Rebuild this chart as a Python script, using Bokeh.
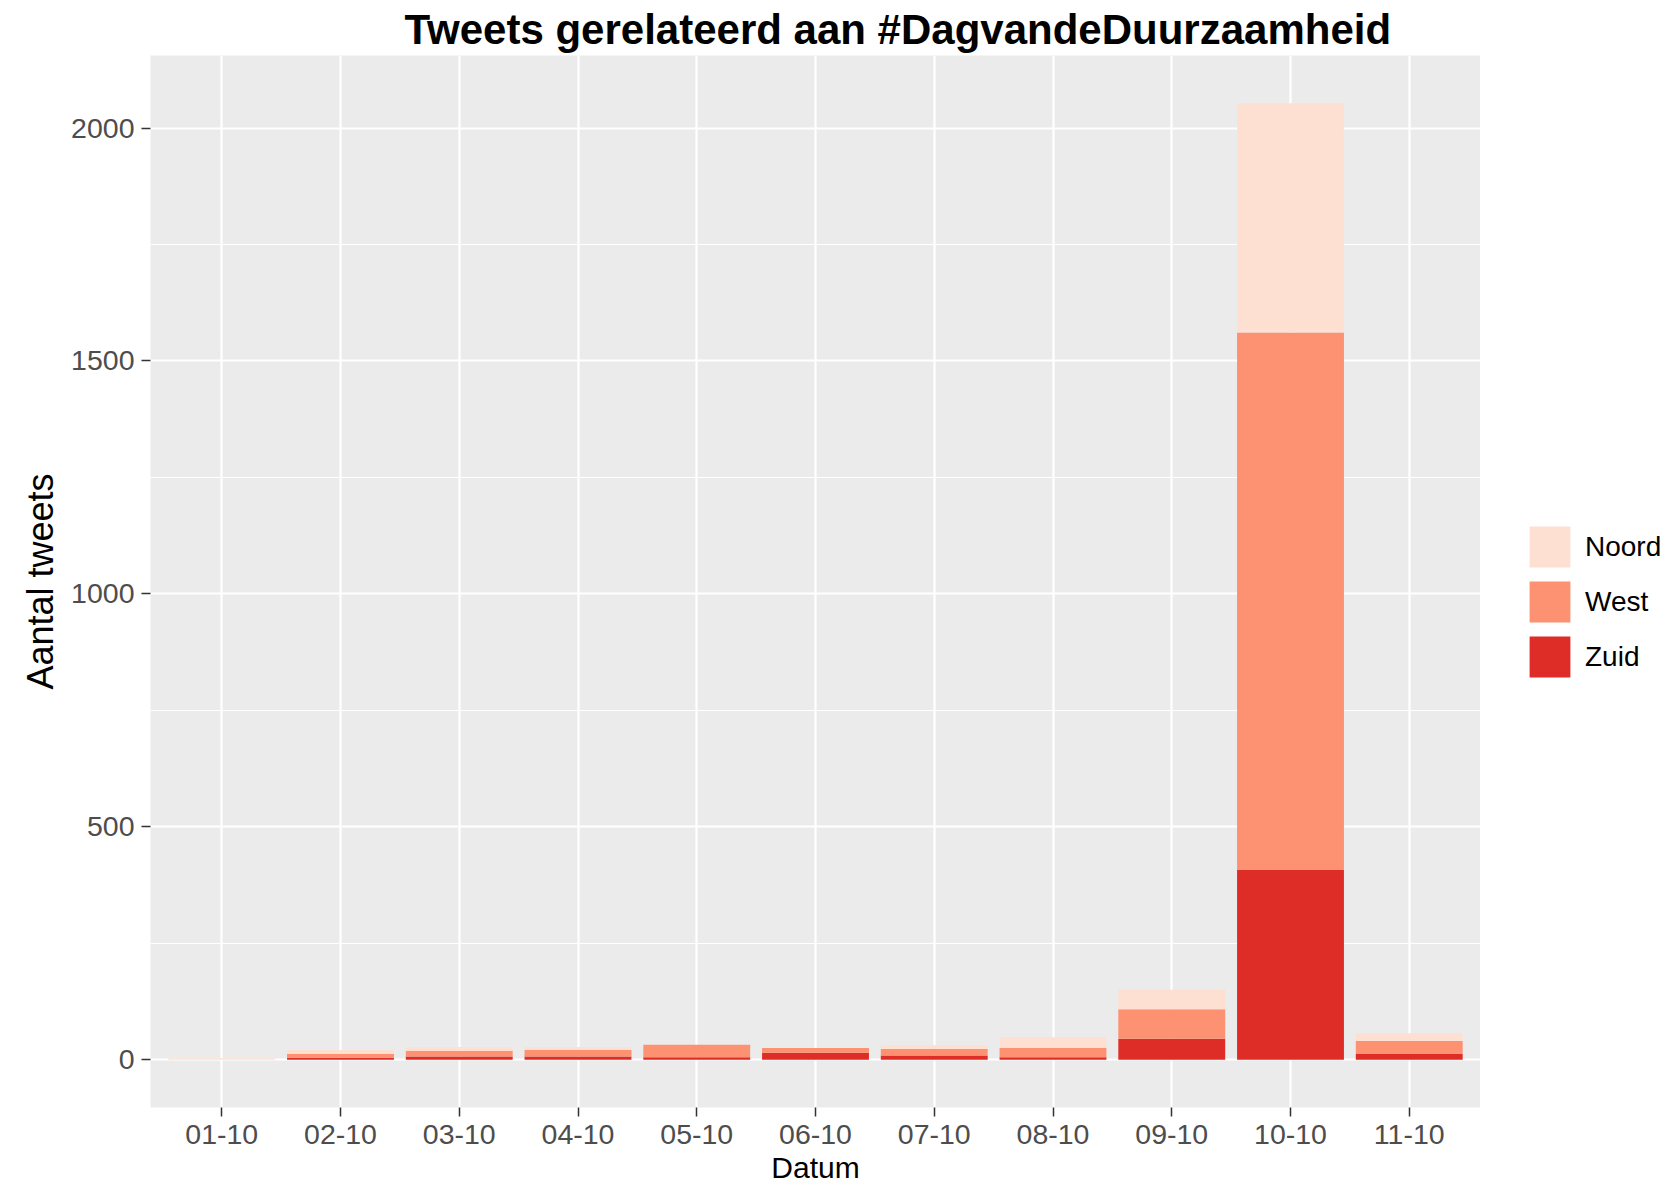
from bokeh.plotting import figure
from bokeh.layouts import row
from bokeh.models import (ColumnDataSource, Range1d, FixedTicker, SingleIntervalTicker,
                          Legend, LegendItem)
from bokeh.embed import file_html
from bokeh.resources import INLINE

# ---------------- data ----------------
dates = ["01-10", "02-10", "03-10", "04-10", "05-10", "06-10",
         "07-10", "08-10", "09-10", "10-10", "11-10"]
zuid = [0, 4, 7, 7, 5, 15, 9, 5, 45, 407, 12]
west = [0, 9, 12, 14, 27, 10, 14, 20, 63, 1154, 28]
noord = [3, 8, 8, 6, 0, 0, 8, 23, 42, 492, 17]
regions = ["Noord", "West", "Zuid"]
region_colors = ["#FEE0D2", "#FC9272", "#DE2D26"]
y_ticks_interval = 500
title_text = "Tweets gerelateerd aan #DagvandeDuurzaamheid"
x_title = "Datum"
y_title = "Aantal tweets"

# ---------------- layout ----------------
MAIN_W, LEG_W, H = 1480, 183, 1186
FONT = "Liberation Sans"

positions = list(range(1, len(dates) + 1))
totals = [z + w + n for z, w, n in zip(zuid, west, noord)]
span = max(totals)
ymin, ymax = -0.05 * span, 1.05 * span
xmin, xmax = 0.4, len(dates) + 0.6

src = ColumnDataSource(dict(x=positions, Zuid=zuid, West=west, Noord=noord))

p = figure(width=MAIN_W, height=H, x_range=Range1d(xmin, xmax), y_range=Range1d(ymin, ymax),
           output_backend="svg", toolbar_location=None,
           min_border_left=150, min_border_right=0, min_border_top=10, min_border_bottom=10,
           background_fill_color="#EBEBEB", border_fill_color="white", outline_line_color=None)

# title
p.title.text = title_text
p.title.text_font = FONT
p.title.text_font_size = "42px"
p.title.text_font_style = "bold"
p.title.text_color = "black"
p.title.align = "left"
p.title.offset = 254
p.title.standoff = 6

color_of = dict(zip(regions, region_colors))
stack_order = ["Zuid", "West", "Noord"]
p.vbar_stack(stack_order, x="x", width=0.9, source=src,
             fill_color=[color_of[r] for r in stack_order], line_color=None)

# axes
p.xaxis.ticker = FixedTicker(ticks=positions)
p.xaxis.major_label_overrides = {pos: d for pos, d in zip(positions, dates)}
p.yaxis.ticker = SingleIntervalTicker(interval=y_ticks_interval, num_minor_ticks=2)
for ax in (p.xaxis[0], p.yaxis[0]):
    ax.axis_line_color = None
    ax.major_tick_in = 0
    ax.major_tick_out = 9
    ax.major_tick_line_color = "#333333"
    ax.major_tick_line_width = 1.5
    ax.minor_tick_line_color = None
    ax.major_label_text_font = FONT
    ax.major_label_text_font_size = "28.5px"
    ax.major_label_text_color = "#4D4D4D"
    ax.major_label_standoff = 7
    ax.axis_label_text_font = FONT
    ax.axis_label_text_font_style = "normal"
    ax.axis_label_text_color = "black"
p.xaxis.major_label_standoff = 8
p.xaxis.axis_label = x_title
p.xaxis.axis_label_text_font_size = "30px"
p.xaxis.axis_label_standoff = 4
p.yaxis.axis_label = y_title
p.yaxis.axis_label_text_font_size = "36px"
p.yaxis.axis_label_standoff = 7

# grid
p.xgrid.grid_line_color = "white"
p.xgrid.grid_line_width = 2.2
p.ygrid.grid_line_color = "white"
p.ygrid.grid_line_width = 2.2
p.ygrid.minor_grid_line_color = "white"
p.ygrid.minor_grid_line_width = 1.1

# ---------------- legend panel (right of the chart) ----------------
# the key renderers share the chart's data but lie outside this panel's view,
# so only their legend swatches are visible
lg = figure(width=LEG_W, height=H, output_backend="svg", toolbar_location=None,
            x_axis_type=None, y_axis_type=None, min_border=0,
            x_range=Range1d(-3, -2), y_range=Range1d(0, 1),
            outline_line_color=None, background_fill_color="white", border_fill_color="white")
key_rends = {r: lg.vbar(x="x", top=r, width=0.9, source=src,
                        fill_color=color_of[r], line_color=None)
             for r in regions}
legend = Legend(items=[LegendItem(label=r, renderers=[key_rends[r]]) for r in regions],
                location=(44, 425), glyph_width=51, glyph_height=51, spacing=4,
                padding=0, margin=0, label_standoff=10,
                label_text_font=FONT, label_text_font_size="28px", label_text_color="black",
                border_line_color=None, background_fill_alpha=0)
lg.add_layout(legend)

layout = row(p, lg, spacing=0)
open("out.html", "w").write(file_html(layout, INLINE))
